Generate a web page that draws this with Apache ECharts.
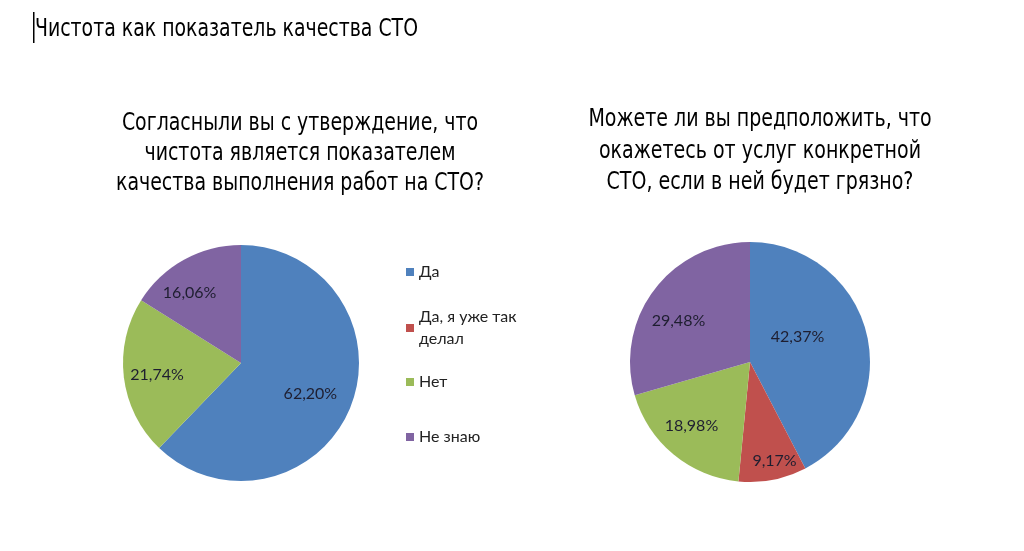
<!DOCTYPE html>
<html>
<head>
<meta charset="utf-8">
<script src="https://cdn.jsdelivr.net/npm/echarts@6/dist/echarts.min.js"></script>
<style>
html,body{margin:0;padding:0;background:#fff;}
#chart{width:1024px;height:551px;}
</style>
</head>
<body>
<div id="chart"></div>
<script>
const pageTitle = 'Чистота как показатель качества СТО';
const leftTitle = 'Согласныли вы с утверждение, что\nчистота является показателем\nкачества выполнения работ на СТО?';
const rightTitle = 'Можете ли вы предположить, что\nокажетесь от услуг конкретной\nСТО, если в ней будет грязно?';
const categories = ['Да', 'Да, я уже так делал', 'Нет', 'Не знаю'];
const leftValues = [62.20, 0, 21.74, 16.06];
const rightValues = [42.37, 9.17, 18.98, 29.48];
const colors = ['#4F81BD', '#C0504D', '#9BBB59', '#8064A2'];
// label nudges (styling only)
const leftLabelOffsets = [[-10,-1],[0,0],[1,1],[-10,5]];
const rightLabelOffsets = [[-37,-5],[8,13],[-3,-3],[-2,11]];

const titleFont = '"Liberation Sans Narrow", "DejaVu Sans Condensed", Roboto, sans-serif';
const labelFont = 'Lato, "Open Sans", sans-serif';

function toData(vals, offs){
  return categories.map((c,i)=>({name:c, value:vals[i], label: offs ? {offset: offs[i]} : undefined}));
}
function fmt(p){ return p.value ? p.value.toFixed(2).replace('.', ',') + '%' : ''; }

function pieSeries(center, r, vals, offs){
  return [
    {
      type:'pie', center:center, radius:[0, r], startAngle:90, clockwise:true,
      data: toData(vals), label:{show:false}, labelLine:{show:false},
      emphasis:{disabled:true}, silent:true, avoidLabelOverlap:false
    },
    {
      type:'pie', center:center, radius:[r*0.4, r], startAngle:90, clockwise:true,
      data: toData(vals, offs), itemStyle:{color:'rgba(0,0,0,0)'},
      label:{show:true, position:'inside', formatter:fmt, fontFamily:labelFont, fontSize:16, color:'#1e1e30'},
      labelLine:{show:false}, emphasis:{disabled:true}, silent:true, avoidLabelOverlap:false
    }
  ];
}

function legendItem(name, top, opts){
  return Object.assign({
    data:[name], orient:'vertical', left:406, top:top, padding:0,
    icon:'rect', itemWidth:8, itemHeight:8, selectedMode:false,
    textStyle:{fontFamily:labelFont, fontSize:16, color:'#222', lineHeight:22}
  }, opts || {});
}

const chart = echarts.init(document.getElementById('chart'));
chart.setOption({
  backgroundColor:'#fff',
  color: colors,
  animation:false,
  legend:[
    legendItem(categories[0], 261),
    legendItem(categories[1], 295, {
      formatter:()=> 'Да, я уже так\nделал',
      textStyle:{fontFamily:labelFont, fontSize:16, color:'#222', lineHeight:22, padding:[22,0,0,0]}
    }),
    legendItem(categories[2], 371),
    legendItem(categories[3], 426)
  ],
  graphic:[
    {type:'rect', x:33, y:12, shape:{width:1.5, height:31}, style:{fill:'#000'}},
    {type:'text', x:35, y:29, scaleX:0.84, style:{text:pageTitle, font:'25px '+titleFont, fill:'#000', align:'left', verticalAlign:'middle'}},
    {type:'text', x:300, y:154, scaleX:0.877, style:{text:leftTitle, font:'24px '+titleFont, fill:'#000', align:'center', verticalAlign:'middle', lineHeight:30}},
    {type:'text', x:760, y:151.5, scaleX:0.88, style:{text:rightTitle, font:'24px '+titleFont, fill:'#000', align:'center', verticalAlign:'middle', lineHeight:31.5}}
  ],
  series: [].concat(pieSeries([241,363],118,leftValues,leftLabelOffsets), pieSeries([750,362],120,rightValues,rightLabelOffsets))
});
</script>
</body>
</html>
